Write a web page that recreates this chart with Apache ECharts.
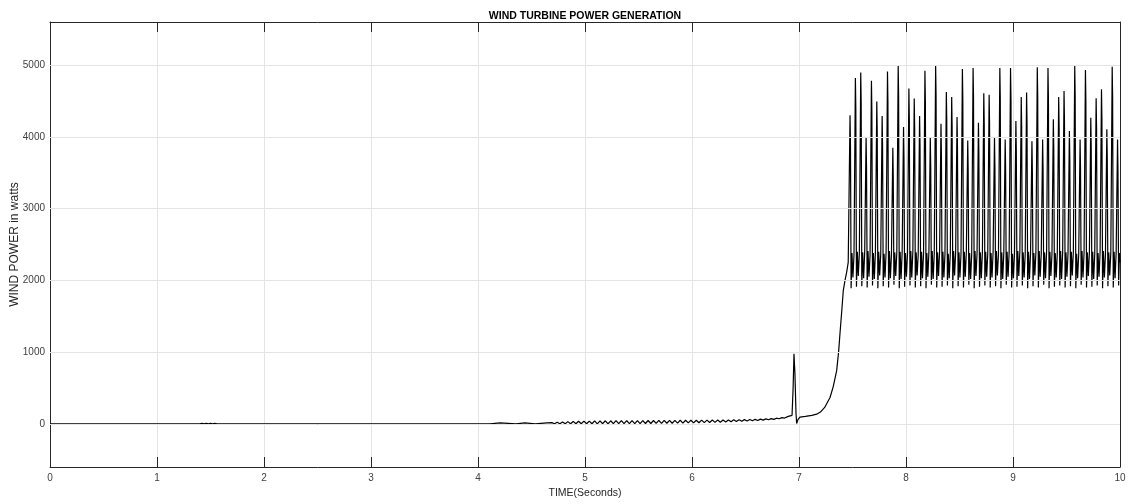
<!DOCTYPE html>
<html>
<head>
<meta charset="utf-8">
<title>Wind turbine power generation</title>
<script src="https://cdn.jsdelivr.net/npm/echarts@6/dist/echarts.min.js"></script>
<style>
  html, body { margin: 0; padding: 0; background: #fff; }
  #main { width: 1131px; height: 504px; }
</style>
</head>
<body>
<div id="main"></div>
<script>
// idle part, small startup steps and the slow ripple before the spike
var startTime = [0, 1.40, 1.42, 1.44, 1.46, 1.48, 1.50, 1.52, 1.54, 1.56,
  4.11, 4.112, 4.206, 4.208, 4.355, 4.357, 4.439, 4.441, 4.533, 4.535, 4.645, 4.647];
var startPower = [0, 0, 10, 0, 10, 0, 10, 0, 10, 0,
  0, 14, 14, 0, 0, 14, 14, 0, 0, 16, 16, 0];

var rippleTime = [
  4.69, 4.715, 4.74, 4.765, 4.79, 4.815, 4.84, 4.865, 4.89, 4.915, 4.94, 4.965,
  4.99, 5.015, 5.04, 5.065, 5.09, 5.115, 5.14, 5.165, 5.19, 5.215, 5.24, 5.265,
  5.29, 5.315, 5.34, 5.365, 5.39, 5.415, 5.44, 5.465, 5.49, 5.515, 5.54, 5.565,
  5.59, 5.615, 5.64, 5.665, 5.69, 5.715, 5.74, 5.765, 5.79, 5.815, 5.84, 5.865,
  5.89, 5.915, 5.94, 5.965, 5.99, 6.015, 6.04, 6.065, 6.09, 6.115, 6.14, 6.165,
  6.19, 6.215, 6.24, 6.265, 6.29, 6.315, 6.34, 6.365, 6.39, 6.415, 6.44, 6.465,
  6.49, 6.515, 6.54, 6.565, 6.59, 6.615, 6.64, 6.665, 6.69, 6.715, 6.74, 6.765,
  6.79, 6.815, 6.84, 6.865];
var ripplePower = [
  18, 2, 24, 2, 28, 3, 32, 3, 35, 2, 38, 3,
  40, 2, 40, 3, 42, 2, 42, 3, 44, 2, 44, 3,
  45, 3, 45, 4, 46, 4, 46, 5, 47, 5, 47, 6,
  48, 6, 48, 8, 49, 8, 49, 10, 50, 10, 50, 12,
  51, 12, 51, 14, 52, 15, 52, 16, 53, 18, 53, 20,
  54, 22, 54, 24, 55, 27, 56, 30, 57, 33, 58, 36,
  60, 40, 62, 44, 64, 48, 67, 53, 70, 58, 74, 64,
  80, 72, 88, 82];

// spike near 7 s and the ramp up
var rampTime = [6.90, 6.935, 6.945, 6.953, 6.962, 6.972, 6.978, 6.99, 7.009, 7.06, 7.12,
  7.165, 7.20, 7.24, 7.29, 7.32, 7.352, 7.37, 7.383, 7.40, 7.414, 7.43, 7.446, 7.46];
var rampPower = [105, 120, 500, 976, 700, 150, 5, 60, 95, 105, 120,
  136, 165, 230, 368, 520, 742, 1000, 1260, 1580, 1862, 2000, 2119, 2250];

// steady oscillation, one row per cycle
var oscTime = [
  7.477, 7.481, 7.487, 7.495, 7.504, 7.514,
  7.527, 7.531, 7.537, 7.545, 7.554, 7.564,
  7.577, 7.581, 7.587, 7.595, 7.604, 7.614,
  7.627, 7.631, 7.637, 7.645, 7.654, 7.664,
  7.677, 7.681, 7.687, 7.695, 7.704, 7.714,
  7.727, 7.731, 7.737, 7.745, 7.754, 7.764,
  7.777, 7.781, 7.787, 7.795, 7.804, 7.814,
  7.827, 7.831, 7.837, 7.845, 7.854, 7.864,
  7.877, 7.881, 7.887, 7.895, 7.904, 7.914,
  7.927, 7.931, 7.937, 7.945, 7.954, 7.964,
  7.977, 7.981, 7.987, 7.995, 8.004, 8.014,
  8.027, 8.031, 8.037, 8.045, 8.054, 8.064,
  8.077, 8.081, 8.087, 8.095, 8.104, 8.114,
  8.127, 8.131, 8.137, 8.145, 8.154, 8.164,
  8.177, 8.181, 8.187, 8.195, 8.204, 8.214,
  8.227, 8.231, 8.237, 8.245, 8.254, 8.264,
  8.277, 8.281, 8.287, 8.295, 8.304, 8.314,
  8.327, 8.331, 8.337, 8.345, 8.354, 8.364,
  8.377, 8.381, 8.387, 8.395, 8.404, 8.414,
  8.427, 8.431, 8.437, 8.445, 8.454, 8.464,
  8.477, 8.481, 8.487, 8.495, 8.504, 8.514,
  8.527, 8.531, 8.537, 8.545, 8.554, 8.564,
  8.577, 8.581, 8.587, 8.595, 8.604, 8.614,
  8.627, 8.631, 8.637, 8.645, 8.654, 8.664,
  8.677, 8.681, 8.687, 8.695, 8.704, 8.714,
  8.727, 8.731, 8.737, 8.745, 8.754, 8.764,
  8.777, 8.781, 8.787, 8.795, 8.804, 8.814,
  8.827, 8.831, 8.837, 8.845, 8.854, 8.864,
  8.877, 8.881, 8.887, 8.895, 8.904, 8.914,
  8.927, 8.931, 8.937, 8.945, 8.954, 8.964,
  8.977, 8.981, 8.987, 8.995, 9.004, 9.014,
  9.027, 9.031, 9.037, 9.045, 9.054, 9.064,
  9.077, 9.081, 9.087, 9.095, 9.104, 9.114,
  9.127, 9.131, 9.137, 9.145, 9.154, 9.164,
  9.177, 9.181, 9.187, 9.195, 9.204, 9.214,
  9.227, 9.231, 9.237, 9.245, 9.254, 9.264,
  9.277, 9.281, 9.287, 9.295, 9.304, 9.314,
  9.327, 9.331, 9.337, 9.345, 9.354, 9.364,
  9.377, 9.381, 9.387, 9.395, 9.404, 9.414,
  9.427, 9.431, 9.437, 9.445, 9.454, 9.464,
  9.477, 9.481, 9.487, 9.495, 9.504, 9.514,
  9.527, 9.531, 9.537, 9.545, 9.554, 9.564,
  9.577, 9.581, 9.587, 9.595, 9.604, 9.614,
  9.627, 9.631, 9.637, 9.645, 9.654, 9.664,
  9.677, 9.681, 9.687, 9.695, 9.704, 9.714,
  9.727, 9.731, 9.737, 9.745, 9.754, 9.764,
  9.777, 9.781, 9.787, 9.795, 9.804, 9.814,
  9.827, 9.831, 9.837, 9.845, 9.854, 9.864,
  9.877, 9.881, 9.887, 9.895, 9.904, 9.914,
  9.927, 9.931, 9.937, 9.945, 9.954, 9.964,
  9.977, 9.981, 9.987, 9.995, 10.0];
var oscPower = [
  4300, 3880, 1890, 2380, 2040, 2360,
  4818, 4400, 1910, 2400, 2060, 2380,
  4897, 4480, 1920, 2390, 2030, 2400,
  3996, 3580, 1900, 2410, 2050, 2350,
  4781, 4360, 1930, 2380, 2020, 2390,
  4491, 4070, 1890, 2400, 2070, 2370,
  4290, 3870, 1920, 2370, 2040, 2400,
  4911, 4490, 1900, 2410, 2030, 2360,
  3847, 3430, 1940, 2390, 2060, 2380,
  4991, 4570, 1890, 2400, 2020, 2390,
  4136, 3720, 1910, 2380, 2050, 2370,
  4673, 4250, 1930, 2410, 2040, 2400,
  4533, 4110, 1900, 2390, 2070, 2360,
  4290, 3870, 1920, 2400, 2030, 2380,
  4920, 4500, 1890, 2380, 2050, 2390,
  3996, 3580, 1940, 2410, 2020, 2370,
  4991, 4570, 1900, 2390, 2060, 2400,
  4183, 3760, 1910, 2400, 2040, 2360,
  4626, 4210, 1930, 2370, 2030, 2380,
  4556, 4140, 1890, 2410, 2070, 2390,
  4276, 3860, 1920, 2390, 2040, 2370,
  4944, 4520, 1900, 2400, 2050, 2400,
  3950, 3530, 1940, 2380, 2020, 2360,
  4958, 4540, 1890, 2410, 2060, 2380,
  4197, 3780, 1910, 2390, 2030, 2390,
  4608, 4190, 1930, 2400, 2050, 2370,
  4585, 4170, 1900, 2380, 2040, 2400,
  3987, 3570, 1920, 2410, 2070, 2360,
  4958, 4540, 1890, 2390, 2020, 2380,
  3964, 3550, 1940, 2400, 2050, 2390,
  4958, 4540, 1900, 2370, 2030, 2370,
  4220, 3800, 1910, 2410, 2060, 2400,
  4556, 4140, 1930, 2390, 2040, 2360,
  4617, 4200, 1890, 2400, 2020, 2380,
  3940, 3520, 1920, 2380, 2070, 2390,
  4968, 4550, 1900, 2410, 2050, 2370,
  3964, 3550, 1940, 2390, 2030, 2400,
  4958, 4540, 1890, 2400, 2060, 2360,
  4244, 3830, 1910, 2380, 2040, 2380,
  4556, 4140, 1930, 2410, 2020, 2390,
  4640, 4220, 1900, 2390, 2050, 2370,
  4080, 3660, 1920, 2400, 2070, 2400,
  4991, 4570, 1890, 2370, 2030, 2360,
  3964, 3550, 1940, 2410, 2040, 2380,
  4930, 4510, 1900, 2390, 2060, 2390,
  4267, 3850, 1910, 2400, 2020, 2370,
  4538, 4120, 1930, 2380, 2050, 2400,
  4664, 4250, 1890, 2410, 2040, 2360,
  4104, 3690, 1920, 2390, 2070, 2380,
  4976, 4560, 1900, 2400, 2030, 2390,
  3964, 3550, 1930, 2380, 2250];

var yTicks = [0, 1000, 2000, 3000, 4000, 5000];

var time = startTime.concat(rippleTime, rampTime, oscTime);
var power = startPower.concat(ripplePower, rampPower, oscPower);
var seriesData = time.map(function (t, i) { return [t, power[i]]; });

var chartDom = document.getElementById('main');
var myChart = echarts.init(chartDom, null, {renderer: 'canvas'});
var font = "'Liberation Sans', Arial, Helvetica, sans-serif";
var axisColor = '#262626';
var gridColor = '#e4e4e4';
var plain = function (v) { return String(v); };

var option = {
  animation: false,
  backgroundColor: '#ffffff',
  title: {
    text: 'WIND TURBINE POWER GENERATION',
    left: 580,
    textAlign: 'center',
    top: 6,
    textStyle: {fontFamily: font, fontSize: 10.5, fontWeight: 'bold', color: '#000'}
  },
  grid: {left: 50, right: 11, top: 22, bottom: 37, containLabel: false, outerBoundsMode: 'none'},
  xAxis: [
    {
      type: 'value', min: 0, max: 10, interval: 1, position: 'bottom',
      name: 'TIME(Seconds)', nameLocation: 'middle', nameGap: 20,
      nameTextStyle: {fontFamily: font, fontSize: 10.5, color: '#262626'},
      axisLine: {onZero: false, lineStyle: {color: axisColor, width: 1}},
      axisTick: {inside: true, length: 10, lineStyle: {color: axisColor}},
      axisLabel: {fontFamily: font, fontSize: 10, color: '#404040', margin: 6, formatter: plain},
      splitLine: {show: true, lineStyle: {color: gridColor, width: 1}}
    },
    {
      type: 'value', min: 0, max: 10, interval: 1, position: 'top',
      axisLine: {onZero: false, lineStyle: {color: axisColor, width: 1}},
      axisTick: {inside: true, length: 10, lineStyle: {color: axisColor}},
      axisLabel: {show: false},
      splitLine: {show: false}
    }
  ],
  yAxis: [
    {
      type: 'value', min: -600, max: 5600, position: 'left',
      name: 'WIND POWER in watts', nameLocation: 'middle', nameGap: 29,
      nameMoveOverlap: false,
      nameTextStyle: {fontFamily: font, fontSize: 12, color: '#262626'},
      axisLine: {show: true, onZero: false, lineStyle: {color: axisColor, width: 1}},
      axisTick: {show: true, inside: true, length: 10, lineStyle: {color: axisColor},
        customValues: yTicks},
      axisLabel: {fontFamily: font, fontSize: 10, color: '#404040', margin: 5,
        customValues: yTicks, formatter: plain},
      splitLine: {show: false}
    },
    {
      type: 'value', min: -600, max: 5600, position: 'right',
      axisLine: {show: true, onZero: false, lineStyle: {color: axisColor, width: 1}},
      axisTick: {show: true, inside: true, length: 10, lineStyle: {color: axisColor},
        customValues: yTicks},
      axisLabel: {show: false},
      splitLine: {show: false}
    }
  ],
  series: [
    {
      // horizontal grid lines at the tick values
      type: 'line', xAxisIndex: 0, yAxisIndex: 0, data: [], silent: true,
      markLine: {
        silent: true, symbol: 'none', label: {show: false},
        lineStyle: {color: gridColor, type: 'solid', width: 1},
        data: yTicks.map(function (v) { return {yAxis: v}; })
      },
      z: 1
    },
    {
      name: 'Power', type: 'line', xAxisIndex: 0, yAxisIndex: 0,
      data: seriesData, showSymbol: false, symbol: 'none', sampling: null,
      lineStyle: {color: '#000000', width: 1.2}, z: 3
    }
  ]
};
option && myChart.setOption(option);
</script>
</body>
</html>
